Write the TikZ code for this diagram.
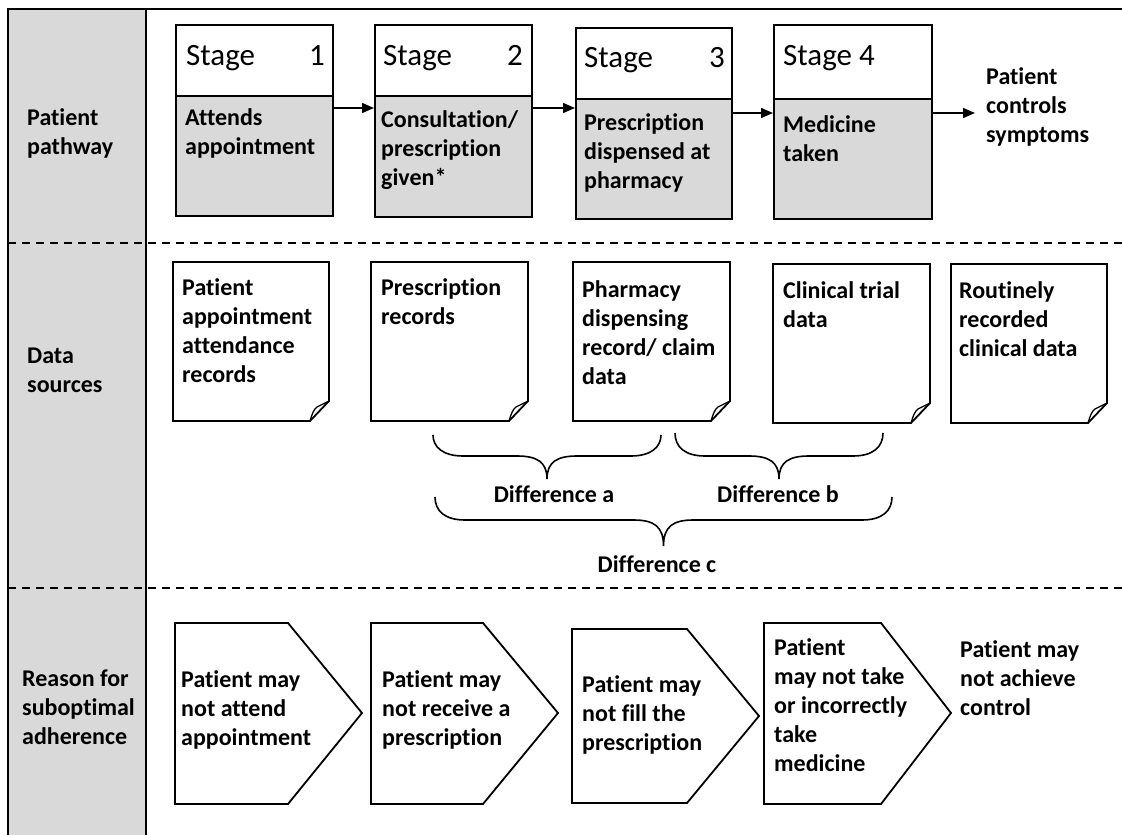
\documentclass[tikz,border=0pt]{standalone}
\usepackage{fontspec}
\setmainfont{Carlito}[Ligatures=NoCommon]
\usetikzlibrary{arrows.meta}
\definecolor{paleGrey}{HTML}{D9D9D9}
\newcommand\fs{\rule{0pt}{20pt}}
% folded-corner data sheet: x0, y0, x1, y1
\newcommand\docsheet[4]{%
  \draw[sheetline] (#1,#2) -- (#3,#2) -- (#3,{#4-20}) -- ({#3-19},#4) -- (#1,#4) -- cycle;
  \draw[foldline] ({#3-19},#4) .. controls ({#3-17},{#4-7}) and ({#3-15},{#4-12}) .. ({#3-12},{#4-14})
     .. controls ({#3-8},{#4-16}) and ({#3-4},{#4-18}) .. (#3,{#4-20});
}
% curly brace: x0, x1, arm top, bar level, tip
\newcommand\curlybrace[5]{%
  \pgfmathsetmacro\bxm{(#1+#2)/2}
  \draw[bracestyle] (#1,#3) .. controls (#1,{#4-9}) and ({#1+10},#4) .. ({#1+30},#4)
    -- ({\bxm-30},#4) .. controls ({\bxm-10},#4) and (\bxm,{#4+6}) .. (\bxm,#5)
    .. controls (\bxm,{#4+6}) and ({\bxm+10},#4) .. ({\bxm+30},#4)
    -- ({#2-30},#4) .. controls ({#2-10},#4) and (#2,{#4-9}) .. (#2,#3);
}
\begin{document}
\begin{tikzpicture}[x=1pt,y=-1pt,
  frame/.style={line width=1.6pt},
  sepline/.style={line width=1.3pt, dash pattern=on 8pt off 6pt},
  box/.style={draw, line width=1.8pt, rectangle, inner sep=0pt, anchor=north west},
  stagehead/.style={box, fill=white},
  stagebody/.style={box, fill=paleGrey},
  sheetline/.style={line width=1.8pt, line join=miter},
  foldline/.style={line width=1.3pt},
  chevron/.style={line width=1.8pt, line join=miter},
  bracestyle/.style={line width=1.6pt},
  arrowline/.style={line width=1.5pt, -{Triangle[length=12pt,width=10pt]}},
  body/.style={inner sep=0pt, align=left, anchor=north west,
    font=\fontsize{24}{29}\selectfont\bfseries},
  diff/.style={inner sep=0pt, anchor=base, font=\fontsize{24}{29}\selectfont\bfseries},
  stitle/.style={inner sep=0pt, font=\fontsize{31}{37}\selectfont},
]
\useasboundingbox (0,0) rectangle (1122,835);

% label column and frame
\fill[paleGrey] (8,9) rectangle (146,835);
\draw[frame] (8,835) -- (8,9) -- (1122,9);
\draw[frame] (146,9) -- (146,835);
\draw[sepline] (8,243) -- (1122,243);
\draw[sepline] (8,588) -- (1122,588);

% row labels
\node[body] (rowA) at (27,105) {\fs Patient\\pathway};
\node[body] (rowB) at (27,343) {\fs Data\\sources};
\node[body] (rowC) at (22,666) {\fs Reason for\\suboptimal\\adherence};

% patient pathway stages
\node[stagehead, minimum width=157, minimum height=71] (h1) at (175,24) {};
\node[stagebody, minimum width=157, minimum height=120] (b1) at (175,95) {};
\node[stagehead, minimum width=157, minimum height=71] (h2) at (374,24) {};
\node[stagebody, minimum width=157, minimum height=121] (b2) at (374,95) {};
\node[stagehead, minimum width=156, minimum height=71] (h3) at (575,27) {};
\node[stagebody, minimum width=156, minimum height=120] (b3) at (575,98) {};
\node[stagehead, minimum width=158, minimum height=74] (h4) at (773,24) {};
\node[stagebody, minimum width=158, minimum height=120] (b4) at (773,98) {};

\node[stitle, anchor=base west] (s1) at (186,65) {Stage};
\node[stitle, anchor=base east] (n1) at (325,65) {1};
\node[stitle, anchor=base west] (s2) at (383,65) {Stage};
\node[stitle, anchor=base east] (n2) at (523,65) {2};
\node[stitle, anchor=base west] (s3) at (584,67) {Stage};
\node[stitle, anchor=base east] (n3) at (725,67) {3};
\node[stitle, anchor=base west] (s4) at (783,65) {Stage 4};

\node[body] (t1) at (185,105) {\fs Attends\\appointment};
\node[body] (t2) at (381,107) {\fs Consultation/\\prescription\\given*};
\node[body] (t3) at (584,110) {\fs Prescription\\dispensed at\\pharmacy};
\node[body] (t4) at (783,112) {\fs Medicine\\taken};
\node[body] (goal) at (986,64) {\fs Patient\\controls\\symptoms};

\coordinate (lvA) at (0,108);
\coordinate (lvB) at (0,113);
\coordinate (goalIn) at (975,113);
\draw[arrowline] (b1.east |- lvA) -- (b2.west |- lvA);
\draw[arrowline] (b2.east |- lvA) -- (b3.west |- lvA);
\draw[arrowline] (b3.east |- lvB) -- (b4.west |- lvB);
\draw[arrowline] (b4.east |- lvB) -- (goalIn);

% data sources
\docsheet{173}{262}{329}{421}
\docsheet{371}{262}{528}{421}
\docsheet{573}{262}{730}{421}
\docsheet{773}{264}{930}{423}
\docsheet{951}{264}{1107}{423}
\node[body] (d1) at (182,275) {\fs Patient\\appointment\\attendance\\records};
\node[body] (d2) at (381,275) {\fs Prescription\\records};
\node[body] (d3) at (582,277) {\fs Pharmacy\\dispensing\\record/ claim\\data};
\node[body] (d4) at (783,278) {\fs Clinical trial\\data};
\node[body] (d5) at (959,278) {\fs Routinely\\recorded\\clinical data};

% differences between sources
\curlybrace{433}{661}{435}{456}{479}
\curlybrace{675}{883}{433}{456}{479}
\curlybrace{435}{892}{497}{520}{546}
\node[diff] (da) at (554,502) {Difference a};
\node[diff] (db) at (778,502) {Difference b};
\node[diff] (dc) at (657,572) {Difference c};

% reasons for suboptimal adherence
\draw[chevron] (175,623) -- (288,623) -- (362,713) -- (288,804) -- (175,804) -- cycle;
\draw[chevron] (371,623) -- (483,623) -- (558,713) -- (483,804) -- (371,804) -- cycle;
\draw[chevron] (572,629) -- (687,629) -- (759,716) -- (687,803) -- (572,803) -- cycle;
\draw[chevron] (764,623) -- (881,623) -- (951,713) -- (881,804) -- (764,804) -- cycle;
\node[body] (c1) at (181,667) {\fs Patient may\\not attend\\appointment};
\node[body] (c2) at (382,667) {\fs Patient may\\not receive a\\prescription};
\node[body] (c3) at (582,672) {\fs Patient may\\not fill the\\prescription};
\node[body] (c4) at (774,635) {\fs Patient\\may not take\\or incorrectly\\take\\medicine};
\node[body] (c5) at (960,637) {\fs Patient may\\not achieve\\control};
\end{tikzpicture}
\end{document}
